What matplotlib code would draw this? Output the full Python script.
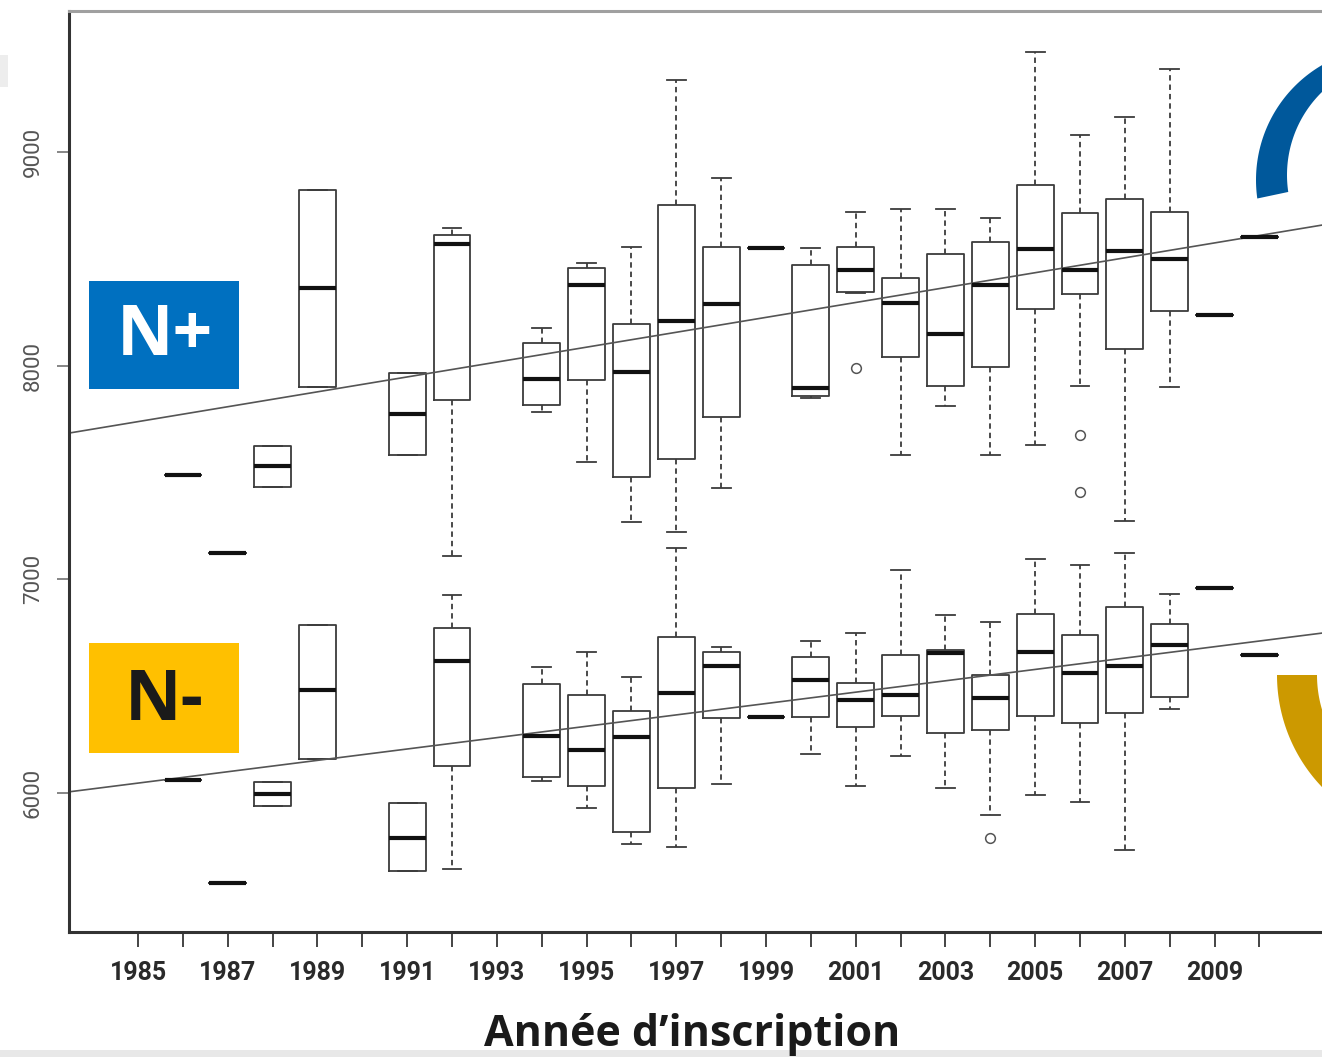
import numpy as np
import matplotlib
matplotlib.use("Agg")
import matplotlib.pyplot as plt
from matplotlib.patches import Rectangle, Polygon

# ---- data ----
tick_years = list(range(1985, 2011))
tick_labels = ['1985', '', '1987', '', '1989', '', '1991', '', '1993', '', '1995', '',
               '1997', '', '1999', '', '2001', '', '2003', '', '2005', '', '2007', '',
               '2009', '']
y_ticks = [6000, 7000, 8000, 9000]

# N+ group
plus_years = [1986, 1987, 1988, 1989, 1991, 1992, 1994, 1995, 1996, 1997, 1998, 1999,
              2000, 2001, 2002, 2003, 2004, 2005, 2006, 2007, 2008, 2009, 2010]
plus_lo  = [7488, 7123, 7433, 7899, 7582, 7110, 7782, 7551, 7266, 7219, 7429, 8552,
            7850, 8340, 7582, 7813, 7582, 7629, 7906, 7271, 7902, 8237, 8601]
plus_q1  = [7488, 7123, 7433, 7899, 7582, 7839, 7816, 7933, 7480, 7563, 7761, 8552,
            7859, 8346, 8042, 7906, 7995, 8264, 8335, 8078, 8256, 8237, 8601]
plus_med = [7488, 7123, 7532, 8362, 7774, 8568, 7936, 8377, 7969, 8209, 8289, 8552,
            7897, 8448, 8295, 8147, 8377, 8546, 8448, 8538, 8498, 8237, 8601]
plus_q3  = [7488, 7123, 7625, 8822, 7964, 8611, 8105, 8456, 8195, 8752, 8554, 8552,
            8471, 8557, 8409, 8523, 8580, 8845, 8716, 8779, 8720, 8237, 8601]
plus_hi  = [7488, 7123, 7625, 8822, 7964, 8643, 8178, 8479, 8557, 9337, 8877, 8552,
            8549, 8721, 8732, 8732, 8690, 9469, 9079, 9162, 9388, 8237, 8601]
plus_flier_years = [2001, 2006, 2006]
plus_flier_vals = [7990, 7675, 7410]

# N- group
minus_years = [1986, 1987, 1988, 1989, 1991, 1992, 1994, 1995, 1996, 1997, 1998, 1999,
               2000, 2001, 2002, 2003, 2004, 2005, 2006, 2007, 2008, 2009, 2010]
minus_lo  = [6061, 5580, 5939, 6158, 5635, 5644, 6056, 5928, 5760, 5749, 6042, 6357,
             6181, 6034, 6175, 6022, 5897, 5988, 5959, 5733, 6392, 6958, 6646]
minus_q1  = [6061, 5580, 5939, 6158, 5635, 6126, 6076, 6033, 5819, 6022, 6350, 6357,
             6357, 6310, 6360, 6279, 6295, 6360, 6329, 6373, 6451, 6958, 6646]
minus_med = [6061, 5580, 5995, 6482, 5788, 6618, 6267, 6201, 6263, 6469, 6594, 6357,
             6529, 6435, 6459, 6654, 6443, 6661, 6560, 6596, 6693, 6958, 6646]
minus_q3  = [6061, 5580, 6053, 6786, 5952, 6774, 6510, 6459, 6385, 6729, 6661, 6357,
             6635, 6516, 6646, 6669, 6552, 6838, 6739, 6872, 6790, 6958, 6646]
minus_hi  = [6061, 5580, 6053, 6786, 5952, 6927, 6588, 6661, 6544, 7145, 6685, 6357,
             6711, 6750, 7044, 6833, 6802, 7094, 7067, 7125, 6931, 6958, 6646]
minus_flier_years = [2004]
minus_flier_vals = [5791]

# fitted trend lines: (value in 1985, slope per year)
plus_trend = (7738, 34.85)
minus_trend = (6046, 26.6)

W, H = 1322, 1057
TICK_FONT = ['Roboto', 'DejaVu Sans']


def make_stats(years, lo, q1, med, q3, hi, fl_years, fl_vals):
    stats = []
    for i, yr in enumerate(years):
        fl = [v for fy, v in zip(fl_years, fl_vals) if fy == yr]
        stats.append(dict(whislo=lo[i], q1=q1[i], med=med[i], q3=q3[i],
                          whishi=hi[i], fliers=fl))
    return stats


def draw_boxes(ax, years, stats):
    ax.bxp(stats, positions=years, widths=0.82, manage_ticks=False,
           boxprops=dict(color='#3c3c3c', linewidth=1.3),
           medianprops=dict(color='#111111', linewidth=3.0, solid_capstyle='butt'),
           whiskerprops=dict(color='#3c3c3c', linewidth=1.3, linestyle=(0, (3, 2.2))),
           capprops=dict(color='#3c3c3c', linewidth=1.3),
           capwidths=0.42,
           flierprops=dict(marker='o', markerfacecolor='none', markeredgecolor='#555555',
                           markersize=7, markeredgewidth=1.1))


def ring_piece(c_out, r_out, c_in, r_in, t_out, t_in):
    to = np.radians(np.linspace(t_out[0], t_out[1], 90))
    ti = np.radians(np.linspace(t_in[1], t_in[0], 90))
    outer = np.column_stack([c_out[0] + r_out * np.cos(to), c_out[1] + r_out * np.sin(to)])
    inner = np.column_stack([c_in[0] + r_in * np.cos(ti), c_in[1] + r_in * np.sin(ti)])
    return np.vstack([outer, inner])


def main():
    fig = plt.figure(figsize=(W / 100, H / 100), dpi=100)
    fig.patch.set_facecolor('white')

    ax = fig.add_axes([69 / W, (H - 932) / H, (1328 - 69) / W, (932 - 11) / H])
    ax.set_xlim(1983.46, 2011.53)
    ax.set_ylim(5349, 9660)

    draw_boxes(ax, plus_years, make_stats(plus_years, plus_lo, plus_q1, plus_med, plus_q3,
                                          plus_hi, plus_flier_years, plus_flier_vals))
    draw_boxes(ax, minus_years, make_stats(minus_years, minus_lo, minus_q1, minus_med, minus_q3,
                                           minus_hi, minus_flier_years, minus_flier_vals))

    ax.axline((1985, plus_trend[0]), slope=plus_trend[1], color='#555555', linewidth=1.2)
    ax.axline((1985, minus_trend[0]), slope=minus_trend[1], color='#555555', linewidth=1.2)

    ax.set_xticks(tick_years)
    ax.set_xticklabels(tick_labels, fontsize=18, fontweight='bold', color='#2a2a2a',
                       family=TICK_FONT)
    ax.set_yticks(y_ticks)
    ax.set_yticklabels([str(v) for v in y_ticks], fontsize=16, color='#555555',
                       rotation=90, va='center', family=TICK_FONT)
    ax.tick_params(axis='x', direction='out', length=11, width=1.4, color='#444444', pad=10)
    ax.tick_params(axis='y', direction='out', length=9, width=1.1, color='#666666', pad=9)

    ax.spines['right'].set_visible(False)
    ax.spines['left'].set_color('#333333')
    ax.spines['left'].set_linewidth(2.2)
    ax.spines['bottom'].set_color('#333333')
    ax.spines['bottom'].set_linewidth(2.2)
    ax.spines['top'].set_color('#a0a0a0')
    ax.spines['top'].set_linewidth(2.2)

    # overlay in pixel coordinates for the decorations
    ov = fig.add_axes([0, 0, 1, 1], zorder=5)
    ov.set_xlim(0, W)
    ov.set_ylim(H, 0)
    ov.axis('off')
    ov.patch.set_alpha(0)

    ov.add_patch(Rectangle((89, 281), 150, 108, color='#0070C0', linewidth=0))
    ov.text(165, 355, 'N+', color='white', fontsize=50, fontweight='bold',
            family=['Open Sans', 'DejaVu Sans'], ha='center', va='baseline')
    ov.add_patch(Rectangle((89, 643), 150, 110, color='#FFC000', linewidth=0))
    ov.text(164, 720, 'N-', color='#1a1a1a', fontsize=50, fontweight='bold',
            family=['Open Sans', 'DejaVu Sans'], ha='center', va='baseline')

    blue = ring_piece((1389, 180), 133, (1403, 175), 116, (172, 290), (171.6, 290))
    ov.add_patch(Polygon(blue, closed=True, color='#00589B', linewidth=0))
    gold = ring_piece((1439, 675), 162, (1439, 675), 122, (180, 90), (180, 90))
    ov.add_patch(Polygon(gold, closed=True, color='#CC9900', linewidth=0))

    ov.add_patch(Rectangle((0, 1050), W, 7, color='#e8e8e8', linewidth=0))
    ov.add_patch(Rectangle((0, 55), 8, 32, color='#ededed', linewidth=0))

    ov.text(692, 1046, 'Année d\u2019inscription', color='#1a1a1a', fontsize=31,
            fontweight='bold', family=['Open Sans', 'DejaVu Sans'],
            ha='center', va='baseline')

    fig.savefig('out.png', dpi=100)


if __name__ == "__main__":
    main()
